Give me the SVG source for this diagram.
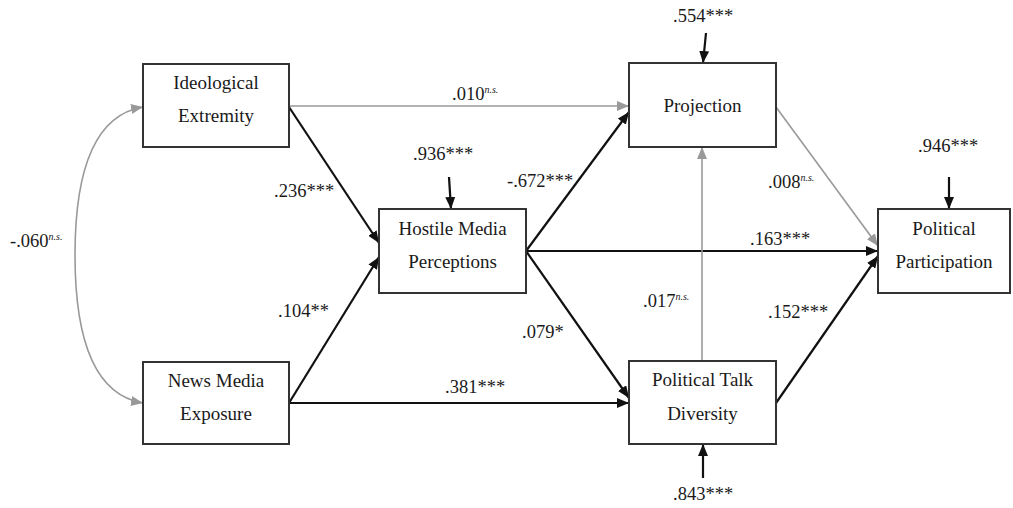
<svg xmlns="http://www.w3.org/2000/svg" width="1013" height="508" viewBox="0 0 1013 508">
<defs>
<style>
.box{fill:#fff;stroke:#333;stroke-width:2}
text{font-family:'Liberation Serif','Times New Roman',serif;font-size:18.5px;fill:#1a1a1a}
.nt{text-anchor:middle;font-size:19px}
.ns{font-size:10px;font-style:italic}
.blk{stroke:#111;stroke-width:2.2;fill:none;marker-end:url(#ab)}
.gry{stroke:#999;stroke-width:1.6;fill:none;marker-end:url(#ag)}
</style>
<marker id="ab" viewBox="0 0 12 10" refX="12" refY="5" markerWidth="12" markerHeight="10" markerUnits="userSpaceOnUse" orient="auto">
<path d="M0,0 L12,5 L0,10 z" fill="#111"/>
</marker>
<marker id="ag" viewBox="0 0 12 10" refX="12" refY="5" markerWidth="12" markerHeight="10" markerUnits="userSpaceOnUse" orient="auto-start-reverse">
<path d="M0,0 L12,5 L0,10 z" fill="#999"/>
</marker>
</defs>
<rect width="1013" height="508" fill="#fff"/>
<g id="connectors">
<path class="gry" d="M143,107 C95,115 75,170 75,255 C75,340 95,395 143,403" marker-start="url(#ag)"/>
<line class="gry" x1="289" y1="106" x2="629" y2="106"/>
<line class="blk" x1="289" y1="107" x2="379" y2="243"/>
<line class="blk" x1="289" y1="403" x2="379" y2="257"/>
<line class="blk" x1="289" y1="403" x2="629" y2="403"/>
<line class="blk" x1="526" y1="251" x2="629" y2="112"/>
<line class="blk" x1="526" y1="251" x2="878" y2="251"/>
<line class="blk" x1="526" y1="251" x2="629" y2="398"/>
<line class="gry" x1="702" y1="361" x2="702" y2="147"/>
<line class="gry" x1="776" y1="107" x2="878" y2="246"/>
<line class="blk" x1="776" y1="403" x2="878" y2="256"/>
<line class="blk" x1="706" y1="33" x2="703" y2="63"/>
<line class="blk" x1="449" y1="177" x2="451" y2="209"/>
<line class="blk" x1="949" y1="177" x2="949" y2="209"/>
<line class="blk" x1="703" y1="478" x2="703" y2="444"/>
</g>
<g id="labels">
<text x="10" y="247">-.060<tspan class="ns" dy="-7">n.s.</tspan></text>
<text x="452" y="100">.010<tspan class="ns" dy="-7">n.s.</tspan></text>
<text x="274" y="197">.236***</text>
<text x="278" y="317">.104**</text>
<text x="413" y="160">.936***</text>
<text x="507" y="187">-.672***</text>
<text x="673" y="22">.554***</text>
<text x="768" y="188">.008<tspan class="ns" dy="-7">n.s.</tspan></text>
<text x="918" y="152">.946***</text>
<text x="750" y="245">.163***</text>
<text x="643" y="307">.017<tspan class="ns" dy="-7">n.s.</tspan></text>
<text x="768" y="318">.152***</text>
<text x="522" y="338">.079*</text>
<text x="445" y="393">.381***</text>
<text x="673" y="500">.843***</text>
</g>
<g id="ideological-extremity">
<rect class="box" x="143" y="64" width="146" height="83"/>
<text class="nt" x="216" y="89">Ideological</text>
<text class="nt" x="216" y="122">Extremity</text>
</g>
<g id="news-media-exposure">
<rect class="box" x="143" y="362" width="146" height="82"/>
<text class="nt" x="216" y="387">News Media</text>
<text class="nt" x="216" y="420">Exposure</text>
</g>
<g id="hostile-media-perceptions">
<rect class="box" x="379" y="209" width="147" height="84"/>
<text class="nt" x="452.5" y="235">Hostile Media</text>
<text class="nt" x="452.5" y="268">Perceptions</text>
</g>
<g id="projection">
<rect class="box" x="629" y="63" width="147" height="84"/>
<text class="nt" x="702.5" y="112">Projection</text>
</g>
<g id="political-talk-diversity">
<rect class="box" x="629" y="361" width="147" height="83"/>
<text class="nt" x="702.5" y="386">Political Talk</text>
<text class="nt" x="702.5" y="420">Diversity</text>
</g>
<g id="political-participation">
<rect class="box" x="878" y="209" width="132" height="84"/>
<text class="nt" x="944" y="235">Political</text>
<text class="nt" x="944" y="268">Participation</text>
</g>
</svg>
